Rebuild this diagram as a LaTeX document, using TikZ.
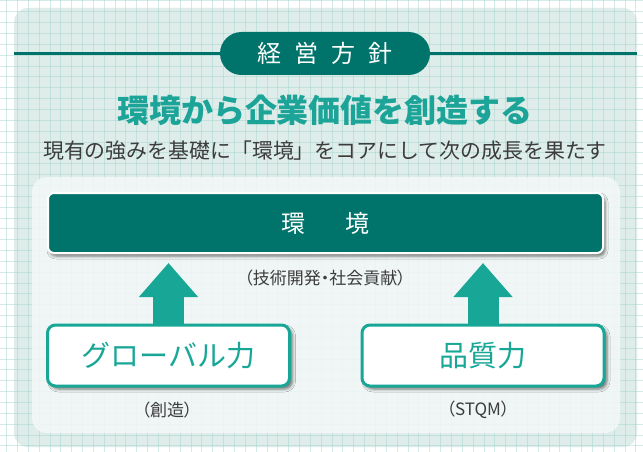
\documentclass[tikz,border=0pt]{standalone}
\usepackage{fontspec}
\newfontfamily\jp{Noto Sans CJK JP}
\newfontfamily\jpp[RawFeature=+palt]{Noto Sans CJK JP}
\usetikzlibrary{shadows.blur,arrows.meta,calc}
\definecolor{darkteal}{HTML}{00736B}
\definecolor{midteal}{HTML}{18A797}
\definecolor{titleteal}{HTML}{1BA497}
\definecolor{panel}{HTML}{DFEDEA}
\definecolor{innerc}{HTML}{F3F8F7}
\definecolor{gridc}{HTML}{9FD3CC}
\definecolor{txtgray}{HTML}{3C3C3C}
\tikzset{
  pill/.style={fill=darkteal, text=white, rounded corners=21.5pt, minimum width=210pt, minimum height=43pt, inner sep=0pt, font=\jp\fontsize{24}{24}\selectfont},
  titletxt/.style={text=titleteal, inner sep=0pt, font=\jp\bfseries\fontsize{32}{32}\selectfont},
  subtxt/.style={text=txtgray, inner sep=0pt, font=\jp\fontsize{20.9}{21}\selectfont},
  envbox/.style={fill=darkteal, draw=white, line width=2pt, rounded corners=6pt, minimum width=555pt, minimum height=60pt, text=white, inner sep=0pt, font=\jp\fontsize{24}{24}\selectfont, blur shadow={shadow xshift=2pt, shadow yshift=-3pt, shadow blur radius=3pt, shadow opacity=55}},
  subbox/.style={fill=white, draw=midteal, line width=3pt, rounded corners=8pt, minimum width=242pt, minimum height=61pt, text=midteal, inner sep=0pt, font=\jp\fontsize{29}{29}\selectfont, blur shadow={shadow xshift=3pt, shadow yshift=-3pt, shadow blur radius=3pt, shadow opacity=55}},
  lbl/.style={text=txtgray, inner sep=0pt, font=\jpp\fontsize{17}{17}\selectfont},
  bigarrow/.style={draw=midteal, line width=31pt, -{Triangle[length=34pt, width=57pt]}}
}
\begin{document}
\begin{tikzpicture}[x=1pt,y=-1pt]
\useasboundingbox (0,0) rectangle (643,452);
\fill[white] (0,0) rectangle (643,452);
\fill[panel, rounded corners=14pt] (14,8) rectangle (637,447);
\foreach \i in {0,...,58} { \draw[gridc, opacity=0.45, line width=1pt] ({6.6+10.85*\i},0) -- ({6.6+10.85*\i},452); }
\foreach \i in {0,...,41} { \draw[gridc, opacity=0.45, line width=1pt] (0,{1+10.85*\i}) -- (643,{1+10.85*\i}); }
\fill[innerc, opacity=0.85, rounded corners=15pt] (32,177) rectangle (620,433);
\draw[darkteal, line width=3pt] (14,53.5) -- (637,53.5);
\node[pill] (head) at (325,53.5) {経\hspace{13pt}営\hspace{13pt}方\hspace{13pt}針};
\node[titletxt] (title) at (325,110) {環境から企業価値を創造する};
\node[subtxt] (sub) at (325,151) {現有の強みを基礎に「環境」をコアにして次の成長を果たす};
\node[envbox] (env) at (325.5,223) {環\hspace{40pt}境};
\node[lbl] (envlbl) at (325,278) {（技術開発・社会貢献）};
\node[subbox] (glob) at (168.5,355.5) {グローバル力};
\node[subbox] (qual) at (483,355.5) {品質力};
\node[lbl] (globlbl) at (167,410) {（創造）};
\node[lbl] (quallbl) at (478,410) {（STQM）};
\draw[bigarrow] (glob.north) -- ($(glob.north |- env.south)+(0,9)$);
\draw[bigarrow] (qual.north) -- ($(qual.north |- env.south)+(0,9)$);
\end{tikzpicture}
\end{document}
